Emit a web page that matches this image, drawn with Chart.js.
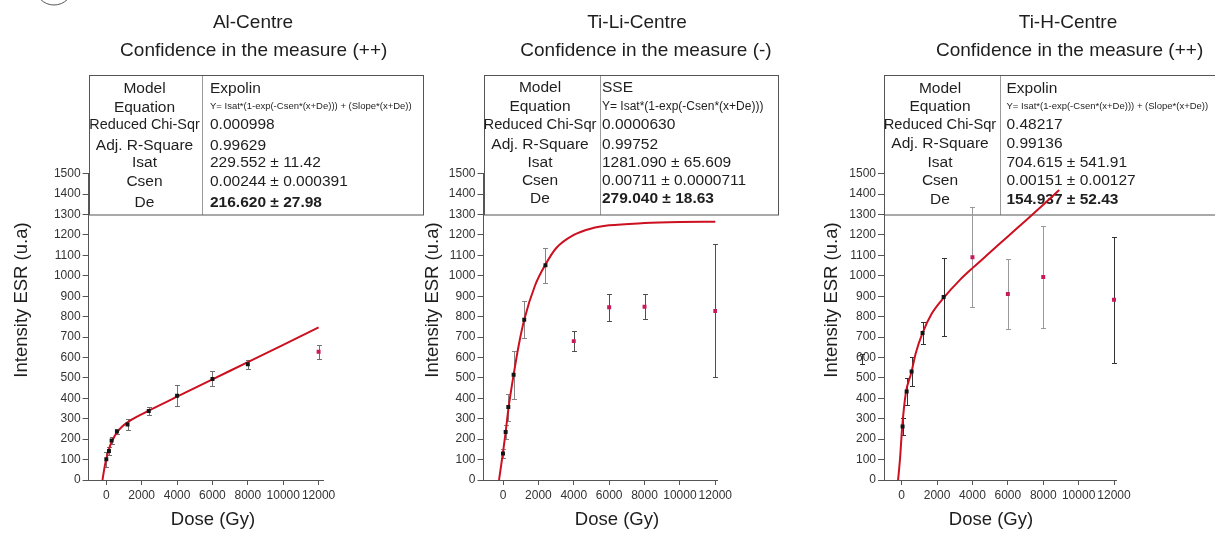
<!DOCTYPE html>
<html><head><meta charset="utf-8">
<script src="https://cdn.jsdelivr.net/npm/chart.js@4.4.0/dist/chart.umd.min.js"></script>
<style>
html,body{margin:0;padding:0;background:#fff;}
#wrap{position:relative;width:1215px;height:533px;overflow:hidden;background:#fff;}
canvas{position:absolute;left:0;top:0;}
</style></head><body>
<div id="wrap">
<canvas id="c1" width="1215" height="533"></canvas>
<canvas id="c2" width="1215" height="533"></canvas>
<canvas id="c3" width="1215" height="533"></canvas>
</div>
<script>
const FF = '"Liberation Sans", Arial, Helvetica, sans-serif';

const xTickValues = [0, 2000, 4000, 6000, 8000, 10000, 12000];
const yTickValues = [0, 100, 200, 300, 400, 500, 600, 700, 800, 900, 1000, 1100, 1200, 1300, 1400, 1500];
const rowLabels = ['Model', 'Equation', 'Reduced Chi-Sqr', 'Adj. R-Square', 'Isat', 'Csen', 'De'];
const yAxisTitle = 'Intensity ESR (u.a)';
const xAxisTitle = 'Dose (Gy)';

// Panel 1 : Al-Centre
const title1 = 'Al-Centre';
const subtitle1 = 'Confidence in the measure (++)';
const table1 = ['Expolin', 'Y= Isat*(1-exp(-Csen*(x+De))) + (Slope*(x+De))', '0.000998', '0.99629', '229.552 ± 11.42', '0.00244 ± 0.000391', '216.620 ± 27.98'];
const dose1 = [0, 150, 300, 600, 1200, 2400, 4000, 6000, 8000, 12000];
const esr1 = [102, 142, 193, 238, 272, 338, 413, 495, 567, 628];
const err1 = [37, 20, 16, 12, 28, 21, 53, 37, 23, 35];
const used1 = [1, 1, 1, 1, 1, 1, 1, 1, 1, 0];
const fitX1 = [-215, -100, 0, 150, 300, 600, 900, 1200, 1800, 2400, 4000, 6000, 8000, 10000, 12000];
const fitY1 = [0, 62, 103, 151, 186, 233, 262, 282, 313, 340, 408, 493, 577, 662, 747];

// Panel 2 : Ti-Li-Centre
const title2 = 'Ti-Li-Centre';
const subtitle2 = 'Confidence in the measure (-)';
const table2 = ['SSE', 'Y= Isat*(1-exp(-Csen*(x+De)))', '0.0000630', '0.99752', '1281.090 ± 65.609', '0.00711 ± 0.0000711', '279.040 ± 18.63'];
const dose2 = [0, 150, 300, 600, 1200, 2400, 4000, 6000, 8000, 12000];
const esr2 = [130, 235, 357, 515, 785, 1052, 680, 846, 848, 828];
const err2 = [20, 35, 66, 117, 90, 85, 48, 66, 61, 326];
const used2 = [1, 1, 1, 1, 1, 1, 0, 0, 0, 0];
const fitX2 = [-225, 0, 150, 300, 600, 900, 1200, 1800, 2400, 3000, 4000, 5000, 6000, 8000, 10000, 12000];
const fitY2 = [0, 135, 235, 345, 515, 665, 785, 950, 1055, 1135, 1200, 1232, 1247, 1258, 1263, 1265];

// Panel 3 : Ti-H-Centre
const title3 = 'Ti-H-Centre';
const subtitle3 = 'Confidence in the measure (++)';
const table3 = ['Expolin', 'Y= Isat*(1-exp(-Csen*(x+De))) + (Slope*(x+De))', '0.48217', '0.99136', '704.615 ± 541.91', '0.00151 ± 0.00127', '154.937 ± 52.43'];
const dose3 = [50, 280, 560, 1180, 2370, 4000, 6000, 8000, 12000];
const esr3 = [262, 433, 531, 720, 896, 1091, 911, 994, 883];
const err3 = [41, 68, 72, 55, 190, 244, 171, 250, 309];
const used3 = [1, 1, 1, 1, 1, 0, 0, 0, 0];
const fitX3 = [-205, -100, 30, 230, 550, 790, 1170, 1700, 2380, 3280, 4030, 5000, 6000, 7000, 8000, 8900];
const fitY3 = [0, 98, 261, 424, 527, 620, 718, 815, 893, 979, 1040, 1115, 1193, 1270, 1348, 1420];
const strayX3 = [-2220];
const strayY3 = [592];
const strayErr3 = [26];

// styles (kept apart from the data)
const errCol1 = ['#707070','#707070','#707070','#707070','#707070','#707070','#707070','#707070','#707070','#707070'];
const errCol2 = ['#858585','#858585','#858585','#858585','#858585','#858585','#505050','#505050','#505050','#505050'];
const errCol3 = ['#333','#333','#333','#333','#333','#9a9a9a','#9a9a9a','#9a9a9a','#333'];

const panels = [
  { id:'c1', zero:106.3, xMin:-1000, xMax:12250, title:title1, subtitle:subtitle1, titleX:253, subX:253.7,
    table:table1, tLeft:88.5, tRight:423, tDiv:202, labX:144.5, valX:210, eqSize:9.5,
    rowBase:[93,112,129,150,167,186,207], eqBase:108.5, yTitleX:26.5, xTitleX:213,
    dose:dose1, esr:esr1, err:err1, used:used1, fitX:fitX1, fitY:fitY1, errCol:errCol1, circle:true },
  { id:'c2', zero:503.0, xMin:-1100, xMax:12100, title:title2, subtitle:subtitle2, titleX:637, subX:646,
    table:table2, tLeft:483.5, tRight:778, tDiv:599.5, labX:540, valX:602, eqSize:12,
    rowBase:[92,111,128.5,148.5,167,185,203], eqBase:110, yTitleX:438, xTitleX:617,
    dose:dose2, esr:esr2, err:err2, used:used2, fitX:fitX2, fitY:fitY2, errCol:errCol2 },
  { id:'c3', zero:901.7, xMin:-1000, xMax:12150, title:title3, subtitle:subtitle3, titleX:1068, subX:1069.6,
    table:table3, tLeft:884, tRight:1230, tDiv:999.5, labX:940, valX:1006.5, eqSize:9.5,
    rowBase:[92.5,111,128.5,148,167,185,204], eqBase:108.5, yTitleX:836.5, xTitleX:991,
    dose:dose3, esr:esr3, err:err3, used:used3, fitX:fitX3, fitY:fitY3, errCol:errCol3,
    strayX:strayX3, strayY:strayY3, strayErr:strayErr3 }
];

const K = 212.3 / 12000; // px per Gy (layout only)
const Y_TOP = 480 - 15 * 20.42, Y_BOT = 480;
const YW = 50, XH = 30;

function drawErr(ctx, xs, ys, x, v, e, col) {
  const px = Math.round(xs.getPixelForValue(x)) + 0.5;
  const y1 = Math.round(ys.getPixelForValue(v - e)) + 0.5;
  const y2 = Math.round(ys.getPixelForValue(v + e)) + 0.5;
  ctx.strokeStyle = col; ctx.lineWidth = 1;
  ctx.beginPath();
  ctx.moveTo(px, y1); ctx.lineTo(px, y2);
  ctx.moveTo(px - 2.5, y1); ctx.lineTo(px + 2.5, y1);
  ctx.moveTo(px - 2.5, y2); ctx.lineTo(px + 2.5, y2);
  ctx.stroke();
}

panels.forEach((P, idx) => {
  const left = P.zero + P.xMin * K;
  const right = P.zero + P.xMax * K;
  const pts = P.dose.map((d, i) => ({ x: d, y: P.esr[i] }));
  const fit = P.fitX.map((x, i) => ({ x: x, y: P.fitY[i] }));
  const datasets = [
    { label: 'data', data: pts, showLine: false, pointStyle: 'rect', pointRadius: 2.8, pointHoverRadius: 2.8,
      pointBackgroundColor: P.used.map(u => u ? '#141414' : '#c8195a'), pointBorderWidth: 0, order: 0 },
    { label: 'fit', data: fit, showLine: true, pointRadius: 0, borderColor: '#cc1020', borderWidth: 2,
      cubicInterpolationMode: 'monotone', fill: false, order: 1 }
  ];
  if (P.strayX) {
    datasets.push({ label: 'extra', data: P.strayX.map((x, i) => ({ x: x, y: P.strayY[i] })), showLine: false,
      pointStyle: 'rect', pointRadius: 2.8, pointBackgroundColor: '#141414', pointBorderWidth: 0, clip: false, order: 0 });
  }
  const decor = {
    id: 'decor' + idx,
    beforeDatasetsDraw(chart) {
      const ctx = chart.ctx, xs = chart.scales.x, ys = chart.scales.y;
      ctx.save();
      if (P.circle) {
        ctx.strokeStyle = '#555'; ctx.lineWidth = 1;
        ctx.beginPath(); ctx.arc(54, -14, 19, 0, Math.PI * 2); ctx.stroke();
      }
      ctx.fillStyle = '#1e1e1e'; ctx.textAlign = 'center'; ctx.textBaseline = 'alphabetic';
      ctx.font = '19px ' + FF;
      ctx.fillText(P.title, P.titleX, 28);
      ctx.fillText(P.subtitle, P.subX, 56);
      ctx.strokeStyle = '#9a9a9a'; ctx.lineWidth = 1;
      ctx.beginPath(); ctx.moveTo(Math.round(P.tDiv) + 0.5, 75); ctx.lineTo(Math.round(P.tDiv) + 0.5, 215); ctx.stroke();
      ctx.strokeStyle = '#555';
      ctx.strokeRect(Math.round(P.tLeft) + 0.5, 75.5, Math.round(P.tRight) - Math.round(P.tLeft), 139.5);
      for (let r = 0; r < rowLabels.length; r++) {
        ctx.fillStyle = '#1e1e1e';
        ctx.textAlign = 'center';
        ctx.font = '15.5px ' + FF;
        ctx.fillText(rowLabels[r], P.labX, P.rowBase[r], P.tDiv - P.tLeft - 3);
        ctx.textAlign = 'left';
        if (r === 1) {
          ctx.font = P.eqSize + 'px ' + FF;
          ctx.fillText(P.table[r], P.valX, P.eqBase);
        } else {
          ctx.font = (r === 6 ? 'bold ' : '') + '15.5px ' + FF;
          ctx.fillText(P.table[r], P.valX, P.rowBase[r]);
        }
      }
      ctx.font = '18.5px ' + FF; ctx.fillStyle = '#1e1e1e';
      ctx.textAlign = 'center';
      ctx.fillText(xAxisTitle, P.xTitleX, 525);
      ctx.save();
      ctx.translate(P.yTitleX, 300); ctx.rotate(-Math.PI / 2);
      ctx.fillText(yAxisTitle, 0, 0);
      ctx.restore();
      P.dose.forEach((d, i) => drawErr(ctx, xs, ys, d, P.esr[i], P.err[i], P.errCol[i]));
      if (P.strayX) P.strayX.forEach((d, i) => drawErr(ctx, xs, ys, d, P.strayY[i], P.strayErr[i], '#333'));
      ctx.restore();
    }
  };
  new Chart(document.getElementById(P.id), {
    type: 'scatter',
    data: { datasets: datasets },
    options: {
      responsive: false, animation: false, events: [],
      layout: { padding: { left: left - YW, right: 1215 - right, top: Y_TOP, bottom: 533 - Y_BOT - XH } },
      plugins: { legend: { display: false }, tooltip: { enabled: false }, title: { display: false } },
      scales: {
        x: {
          type: 'linear', min: P.xMin, max: P.xMax,
          afterBuildTicks: s => { s.ticks = xTickValues.map(v => ({ value: v })); },
          afterFit: s => { s.height = XH; },
          grid: { drawOnChartArea: false, drawTicks: true, tickLength: 5, color: '#555' },
          border: { display: true, color: '#555', width: 1 },
          ticks: { color: '#333', font: { family: FF, size: 12 }, padding: 3, maxRotation: 0, autoSkip: false,
            callback: v => String(v) }
        },
        y: {
          type: 'linear', min: 0, max: 1500,
          afterBuildTicks: s => { s.ticks = yTickValues.map(v => ({ value: v })); },
          afterFit: s => { s.width = YW; },
          grid: { drawOnChartArea: false, drawTicks: true, tickLength: 6, color: '#555' },
          border: { display: true, color: '#555', width: 1 },
          ticks: { color: '#333', font: { family: FF, size: 12 }, padding: 2, autoSkip: false,
            callback: v => String(v) }
        }
      }
    },
    plugins: [decor]
  });
});
</script>
</body></html>
